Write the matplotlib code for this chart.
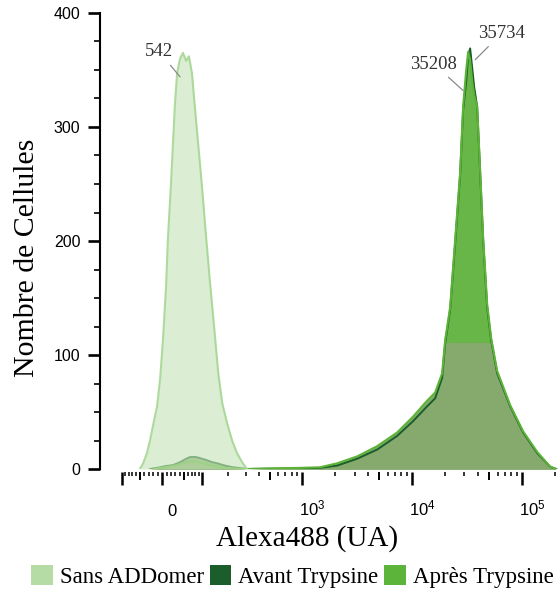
import numpy as np
import matplotlib
matplotlib.use('Agg')
import matplotlib.pyplot as plt
from matplotlib.patches import Patch
from matplotlib.transforms import ScaledTranslation

plt.rcParams['font.family'] = ['Liberation Sans', 'DejaVu Sans']
plt.rcParams['mathtext.fontset'] = 'custom'
plt.rcParams['mathtext.rm'] = 'Liberation Sans'
plt.rcParams['mathtext.it'] = 'Liberation Sans:italic'
plt.rcParams['mathtext.bf'] = 'Liberation Sans:bold'
SERIF = ['Liberation Serif', 'DejaVu Serif']

# ---------------- data ----------------
series_names = ['Sans ADDomer', 'Avant Trypsine', 'Après Trypsine']

sans_x = [-51, -43, -34, -27, -18, -11, -4, 2, 9, 13, 20, 25, 29, 34, 41, 48,
          56, 63, 71, 79, 88, 100, 112, 125, 140, 156, 172, 194, 218, 244, 274, 305]
sans_y = [0, 5, 14, 25, 42, 55, 80, 113, 160, 201, 250, 289, 320, 347, 360, 365,
          358, 362, 347, 317, 286, 246, 205, 165, 125, 84, 58, 40, 25, 14, 6, 0]

avant_x = [-27, -11, 7, 25, 41, 56, 66, 82, 94, 112, 133, 152, 184, 223, 262, 305,
           504, 954, 1454, 2078, 3159, 4805, 7310, 10220, 13716, 16217,
           18776, 19994, 22207, 24666, 27374, 29150, 31090, 32380, 33770, 35250,
           36760, 39120, 41660, 44360, 48230, 52440, 59500, 78130, 102600, 137600,
           180800, 204900]
avant_y = [0, 1, 2.5, 3.5, 6, 9, 10.5, 10.5, 9.5, 8, 6, 5, 3, 1.5, 0.8, 0,
           0.3, 0.5, 1, 3, 9, 17, 29, 42, 55, 62,
           80, 110, 140, 198, 258, 315, 340, 362, 369, 352,
           335, 318, 260, 201, 142, 113, 84, 55, 32, 14,
           2, 0]

apres_x = [-16, 7, 29, 48, 66, 82, 103, 125, 152, 184,
           232, 293, 504, 954, 1454, 2078, 3159, 4805, 7310, 10220,
           13716, 16217, 18776, 19994, 22207, 24666, 27374, 29150, 31090, 32380,
           33770, 35250, 36760, 39120, 41660, 44360, 48230, 52440, 59500, 78130,
           102600, 137600, 180800, 204900]
apres_y = [0, 1.5, 3, 5, 6.5, 6.5, 5, 3.5, 2, 1,
           0.3, 0, 0.5, 1, 1.5, 5, 11, 20, 32, 46,
           60, 67, 84, 113, 142, 201, 260, 318, 350, 366,
           358, 340, 328, 318, 262, 203, 145, 115, 86, 56,
           33, 15, 2, 0]

peak_labels = ['542', '35208', '35734']
peak_x = [41, 29150, 37540]
peak_y = [344, 332, 359]
peak_offsets_pt = [(-15, 18), (-21, 19), (19, 19)]

x_major = [-100, 0, 100, 1e3, 1e4, 1e5]
x_major_labels = ['', '0', '', r'$\mathregular{10^{3}}$', r'$\mathregular{10^{4}}$',
                  r'$\mathregular{10^{5}}$']
x_medium = [-50, 50, 500, 5e3, 5e4]
x_minor = ([-k * 10 for k in (1, 2, 3, 4, 6, 7, 8, 9)] +
           [k * 10 ** d for d in (1, 2, 3, 4) for k in (1, 2, 3, 4, 6, 7, 8, 9)] +
           [2e5])
x_minor = [v for v in x_minor if v not in (100, 1000, 10000, 100000)]
y_major = [0, 100, 200, 300, 400]
y_minor = [25, 50, 75, 125, 150, 175, 225, 250, 275, 325, 350, 375]

c_light_face = '#c6e5b8'
c_light_edge = '#a6d693'
c_dark = '#1b5e2b'
c_bright = '#5cb337'
c_olive = '#86a96d'
leg_colors = ['#b5dca4', '#1b5e2b', '#5db43a']
cap = 111

# ---------------- figure ----------------
fig = plt.figure(figsize=(5.6, 5.91), dpi=100)
ax = fig.add_axes([100 / 560, 1 - 469 / 591, 460 / 560, 456 / 591])

ax.set_xscale('asinh', linear_width=106)
ax.set_xlim(-180, 222000)
ax.set_ylim(0, 400)

ax.fill_between(avant_x, 0, avant_y, color=c_dark, alpha=0.30, lw=0, zorder=1)
ax.fill_between(apres_x, 0, apres_y, color=c_bright, alpha=0.88, lw=0, zorder=2)
ax.fill_between(avant_x, 0, np.minimum(avant_y, cap), color=c_olive, lw=0, zorder=3)
ax.fill_between(apres_x, 0, np.minimum(apres_y, cap), color=c_olive, lw=0, zorder=3)
ax.plot(avant_x, avant_y, color=c_dark, lw=1.4, zorder=4)
ax.plot(apres_x, apres_y, color=c_bright, lw=1.5, zorder=5)
ax.fill_between(sans_x, 0, sans_y, color=c_light_face, alpha=0.62, lw=0, zorder=6)
ax.plot(sans_x, sans_y, color=c_light_edge, lw=1.5, alpha=0.9, zorder=7)

for lab, px_, py_, off in zip(peak_labels, peak_x, peak_y, peak_offsets_pt):
    ax.annotate(lab, xy=(px_, py_), xytext=off, textcoords='offset points',
                ha='center', va='center', fontsize=13.5, family=SERIF, color='#333333',
                arrowprops=dict(arrowstyle='-', color='#8a8a8a', lw=0.9,
                                shrinkA=2, shrinkB=0), zorder=10)

# spines
for s in ('top', 'right', 'bottom'):
    ax.spines[s].set_visible(False)
ax.spines['left'].set_linewidth(1.5)
ax.spines['bottom'].set_position(('outward', 2))

# y ticks
ax.set_yticks(y_major)
ax.set_yticks(y_minor, minor=True)
ax.tick_params(axis='y', which='major', length=9, width=1.9, labelsize=11.5, pad=5)
ax.tick_params(axis='y', which='minor', length=4, width=1.2)

# x ticks
ax.set_xticks(x_major)
ax.set_xticklabels(x_major_labels)
ax.set_xticks(x_minor, minor=True)
ax.xaxis.set_minor_formatter(plt.NullFormatter())
ax.tick_params(axis='x', which='major', length=9.5, width=1.8, labelsize=12, pad=22)
ax.tick_params(axis='x', which='minor', length=3, width=1.1)

ax2 = ax.twiny()
ax2.set_xscale('asinh', linear_width=106)
ax2.set_xlim(ax.get_xlim())
for s in ax2.spines.values():
    s.set_visible(False)
ax2.spines['bottom'].set_position(('outward', 2))
ax2.xaxis.set_ticks_position('bottom')
ax2.set_xticks(x_medium)
ax2.set_xticks([], minor=True)
ax2.tick_params(axis='x', which='major', length=5.5, width=1.4, labelbottom=False,
                labeltop=False)

offset = ScaledTranslation(10 / 100, 0, fig.dpi_scale_trans)
for t in ax.xaxis.get_major_ticks():
    t.label1.set_verticalalignment('baseline')
    t.label1.set_transform(t.label1.get_transform() + offset)

ax.set_xlabel('Alexa488 (UA)', family=SERIF, fontsize=21, va='top')
ax.xaxis.set_label_coords(0.45, -0.124)
ax.set_ylabel('Nombre de Cellules', family=SERIF, fontsize=21.5)
ax.yaxis.set_label_coords(-0.131, 0.463)

handles = [Patch(facecolor=c, edgecolor='none') for c in leg_colors]
fig.legend(handles, series_names, loc='center', bbox_to_anchor=(0.522, 0.024),
           ncol=3, frameon=False, prop={'family': SERIF, 'size': 16.5},
           handlelength=0.95, handleheight=0.95, handletextpad=0.3,
           columnspacing=0.25, borderaxespad=0, borderpad=0)

fig.savefig('out.png', dpi=100)
